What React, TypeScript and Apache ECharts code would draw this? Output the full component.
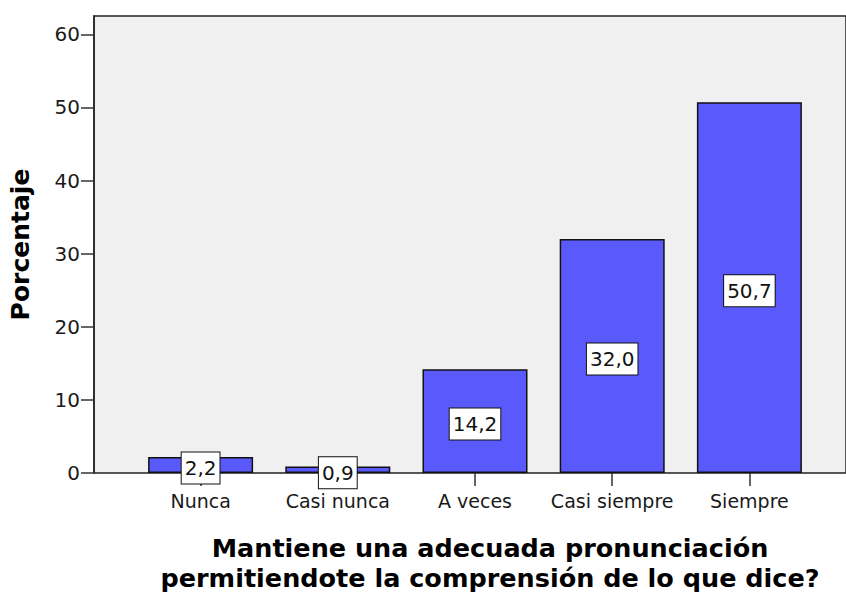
import React, { useEffect, useRef } from "react";
import * as echarts from "echarts";

const categories = ["Nunca", "Casi nunca", "A veces", "Casi siempre", "Siempre"];
const percentages = [2.2, 0.9, 14.2, 32.0, 50.7];
const yTicks = [0, 10, 20, 30, 40, 50, 60];
const yAxisTitle = "Porcentaje";
const xAxisTitleLines = ["Mantiene una adecuada pronunciación", "permitiendote la comprensión de lo que dice?"];

const FONT = "DejaVu Sans";

export default function App() {
  const ref = useRef<HTMLDivElement>(null);
  useEffect(() => {
    if (!ref.current) return;
    const chart = echarts.init(ref.current, undefined, { renderer: "svg" });
    const yMax = 62.5;
    chart.setOption({
      animation: false,
      backgroundColor: "#ffffff",
      grid: [
        {
          left: 94,
          top: 16,
          right: -5,
          bottom: 124,
          show: true,
          backgroundColor: "#f0f0f0",
          borderColor: "#222222",
          borderWidth: 1.5,
        },
        { left: 132, top: 16, right: 28, bottom: 124, show: false },
      ],
      xAxis: [
        { type: "value", gridIndex: 0, show: false, min: 0, max: 1 },
        {
          type: "category",
          gridIndex: 1,
          data: categories,
          axisLine: { show: false },
          axisTick: { show: true, alignWithLabel: true, length: 13, lineStyle: { color: "#333", width: 1.5 } },
          axisLabel: { interval: 0, hideOverlap: false, margin: 18, fontFamily: FONT, fontSize: 19, color: "#1a1a1a" },
        },
      ],
      yAxis: [
        {
          type: "value",
          gridIndex: 0,
          min: 0,
          max: yMax,
          splitLine: { show: false },
          axisLine: { show: true, lineStyle: { color: "#222", width: 1.5 } },
          axisTick: { show: true, length: 13, customValues: yTicks, lineStyle: { color: "#333", width: 1.5 } },
          axisLabel: { customValues: yTicks, margin: 14, fontFamily: FONT, fontSize: 20, color: "#1a1a1a" },
          name: yAxisTitle,
          nameLocation: "middle",
          nameGap: 61,
          nameTextStyle: { fontFamily: FONT, fontSize: 25, fontWeight: "bold", color: "#000" },
        },
        { type: "value", gridIndex: 1, min: 0, max: yMax, show: false },
      ],
      series: [
        {
          type: "bar",
          xAxisIndex: 1,
          yAxisIndex: 1,
          data: percentages,
          barWidth: 105,
          itemStyle: { color: "#5a5afc", borderColor: "#111", borderWidth: 1.5 },
          label: {
            show: true,
            position: "inside",
            offset: [0, 3],
            formatter: (p: any) => Number(p.value).toFixed(1).replace(".", ","),
            fontFamily: FONT,
            fontSize: 20,
            color: "#111",
            backgroundColor: "#ffffff",
            borderColor: "#111",
            borderWidth: 1,
            padding: [6, 3, 5, 3],
          },
        },
      ],
      graphic: xAxisTitleLines.map((line, i) => ({
        type: "text",
        x: 490,
        y: 534 + i * 30,
        style: {
          text: line,
          textAlign: "center",
          textVerticalAlign: "top",
          fontFamily: FONT,
          fontSize: 25.5,
          fontWeight: "bold",
          lineHeight: 28,
          fill: "#000",
        },
      })),
    });
    return () => chart.dispose();
  }, []);
  return <div ref={ref} style={{ position: "fixed", left: 0, top: 0, width: 846, height: 597 }} />;
}
